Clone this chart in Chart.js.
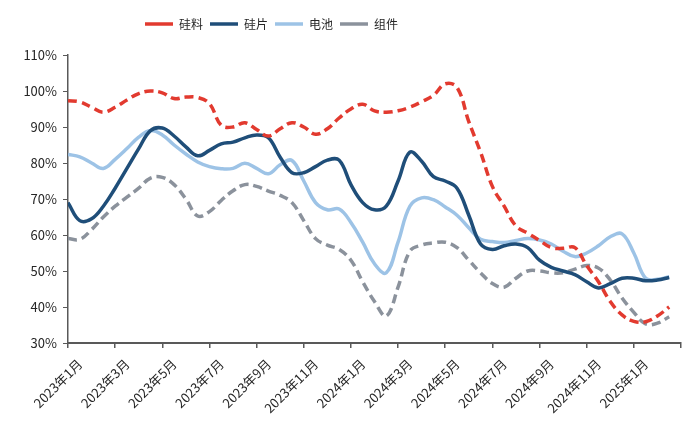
<!DOCTYPE html>
<html>
<head>
<meta charset="utf-8">
<script src="https://cdn.jsdelivr.net/npm/chart.js@4.4.1/dist/chart.umd.min.js"></script>
<style>
  html, body { margin: 0; background: #fff; }
  #wrap { width: 700px; height: 436px; }
</style>
</head>
<body>
<div id="wrap"><canvas id="c"></canvas></div>
<script>
// x = months since 2023年1月, read every half month off the picture
const months = [
  0, 0.5, 1, 1.5, 2, 2.5, 3, 3.5, 4, 4.5, 5, 5.5, 6, 6.5, 7, 7.5, 8, 8.5, 9, 9.5,
  10, 10.5, 11, 11.5, 12, 12.5, 13, 13.5, 14, 14.5, 15, 15.5, 16, 16.5, 17, 17.5,
  18, 18.5, 19, 19.5, 20, 20.5, 21, 21.5, 22, 22.5, 23, 23.5, 24, 24.5, 25, 25.5,
];

// utilisation, %
const polysilicon = [
  97.3, 97, 95.5, 94.1, 95.5, 97.5, 99.3, 100, 99.5, 97.9,
  98.3, 98.2, 96.5, 90.5, 90, 91.2, 89.3, 87.5, 89.5, 91.2,
  90, 88, 89.5, 92.5, 95, 96.3, 94.5, 94.1, 94.5, 95.5,
  97, 98.8, 102, 101, 91.5, 83, 73.5, 68, 62.5, 60.5,
  58.5, 56.5, 56.3, 56.5, 51.5, 47, 41.5, 37.8, 36, 35.9,
  37.5, 40,
];
const wafer = [
  69, 64, 64.5, 68, 73, 78.5, 84, 89, 89.7, 87.5,
  84.5, 82, 83.5, 85.3, 85.8, 87, 87.8, 87, 81.6, 77.3,
  77.3, 79, 80.8, 80.8, 74, 69, 67, 68, 75, 83,
  80.5, 76.2, 75, 73, 65.5, 57.5, 56, 57, 57.5, 56.5,
  53, 51, 50, 49, 47, 45.3, 46.5, 48, 48, 47.3,
  47.5, 48.2,
];
const cell = [
  82.4, 81.7, 80, 78.5, 81, 84, 87.2, 89, 87.8, 85,
  82.5, 80.3, 79, 78.4, 78.5, 79.9, 78.5, 77, 79.5, 80.7,
  75, 69, 67, 67.2, 63.5, 58, 52, 49.5, 58, 68,
  70.3, 69.8, 67.8, 65.5, 62, 58.8, 58.2, 57.9, 58.5, 59,
  58.6, 57.5, 55.5, 54, 55, 57, 59.5, 60.3, 55, 48,
  47.7, 48.4,
];
const module_ = [
  59, 58.8, 61.5, 65, 68, 70.5, 73, 75.8, 76, 74,
  70, 65.3, 66.5, 69.6, 72.3, 74, 73.5, 72.2, 71, 69,
  64, 59, 57.2, 56, 53, 47, 41.5, 37.5, 45.5, 55.5,
  57.2, 57.8, 58, 56.5, 53, 49.5, 46.5, 45.5, 48, 50,
  50, 49.5, 49.5, 50.5, 51.5, 50.8, 47.5, 42.5, 38.5, 35.3,
  35.5, 37.3,
];

// one label per 2-month tick; the last tick (2025年3月) has none
const xTickLabels = [
  '2023年1月', '2023年3月', '2023年5月', '2023年7月', '2023年9月', '2023年11月',
  '2024年1月', '2024年3月', '2024年5月', '2024年7月', '2024年9月', '2024年11月',
  '2025年1月', '',
];

const FONT = "'Noto Sans CJK SC', 'Noto Sans', sans-serif";
const AXIS = '#595959';
const TEXT = '#262626';

const pts = (vals) => months.map((m, i) => ({ x: m, y: vals[i] }));

const series = [
  { label: '硅料', data: polysilicon, color: '#e23a2f', dash: [9, 5] },
  { label: '硅片', data: wafer, color: '#1f4e79', dash: [] },
  { label: '电池', data: cell, color: '#9dc3e6', dash: [] },
  { label: '组件', data: module_, color: '#8b929c', dash: [9, 5] },
];

// legend sits left of centre in the original, with a gap above the plot
const legendTweak = {
  id: 'legendTweak',
  beforeInit(chart) {
    const fit = chart.legend.fit;
    chart.legend.fit = function () {
      fit.call(this);
      this.height += 15;
    };
  },
  afterLayout(chart) {
    chart.legend.left = 138;
  },
};

new Chart(document.getElementById('c'), {
  type: 'line',
  data: {
    datasets: series.map((s) => ({
      label: s.label,
      data: pts(s.data),
      borderColor: s.color,
      backgroundColor: s.color,
      borderWidth: 3.5,
      borderDash: s.dash,
      pointRadius: 0,
      tension: 0.4,
      fill: false,
    })),
  },
  plugins: [legendTweak],
  options: {
    responsive: true,
    maintainAspectRatio: false,
    animation: false,
    layout: { padding: { top: 11, right: 19, left: 0, bottom: 0 } },
    plugins: {
      legend: {
        position: 'top',
        align: 'start',
        labels: {
          usePointStyle: true,
          pointStyle: 'line',
          pointStyleWidth: 28,
          color: TEXT,
          padding: 7,
          font: { family: FONT, size: 12 },
        },
      },
      tooltip: { enabled: false },
    },
    scales: {
      x: {
        type: 'linear',
        min: 0,
        max: 26,
        afterFit: (s) => { s.height = 93; },
        afterBuildTicks: (s) => {
          s.ticks = xTickLabels.map((_, i) => ({ value: i * 2 }));
        },
        ticks: {
          color: TEXT,
          font: { family: FONT, size: 13 },
          maxRotation: 45,
          minRotation: 45,
          autoSkip: false,
          labelOffset: 12,
          padding: 8,
          callback: (v) => xTickLabels[v / 2],
        },
        grid: { drawOnChartArea: false, drawTicks: true, tickLength: 5, color: AXIS, lineWidth: 1.5 },
        border: { display: true, color: AXIS, width: 2 },
      },
      y: {
        min: 30,
        max: 110,
        afterFit: (s) => { s.width = 68; },
        ticks: {
          stepSize: 10,
          color: TEXT,
          padding: 6,
          font: { family: FONT, size: 13 },
          callback: (v) => v + '%',
        },
        grid: { drawOnChartArea: false, drawTicks: true, tickLength: 5, color: AXIS },
        border: { display: true, color: AXIS, width: 1.5 },
      },
    },
  },
});
</script>
</body>
</html>
